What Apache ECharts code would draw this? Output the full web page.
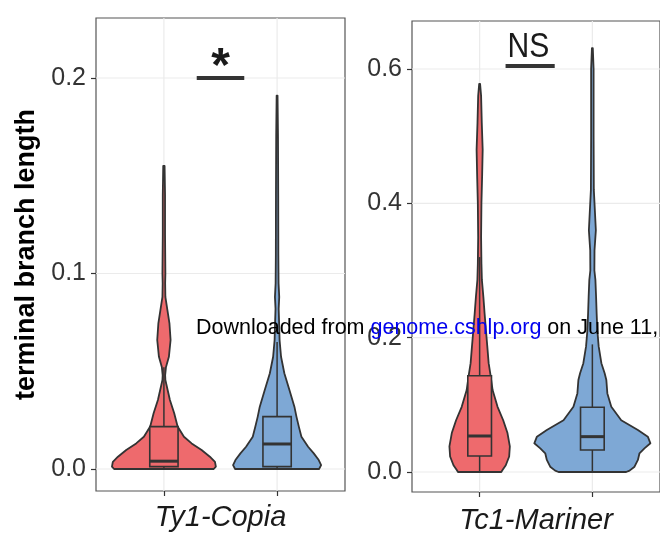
<!DOCTYPE html>
<html><head><meta charset="utf-8">
<script src="https://cdn.jsdelivr.net/npm/echarts@6/dist/echarts.min.js"></script>
<style>html,body{margin:0;padding:0;background:#fff}#c{width:660px;height:541px}</style>
</head><body><div id="c"></div>
<script>
// ---- data ----
const panelNames = ['Ty1-Copia', 'Tc1-Mariner'];
const groupPos = [1, 2];               // red group, blue group
const ty1TickLabels = [0, 0.1, 0.2];
const tc1TickLabels = [0, 0.2, 0.4, 0.6];

// violin outlines: value levels (top -> bottom) and half-widths (x units)
const ty1RedY = [0.155, 0.14, 0.12, 0.10, 0.095, 0.088, 0.0813, 0.0745, 0.066, 0.0574, 0.052, 0.048, 0.0455, 0.0404, 0.0353, 0.0285, 0.0217, 0.0165, 0.0131, 0.0097, 0.0063, 0.0037, 0.0012, 0];
const ty1RedW = [0.006, 0.010, 0.010, 0.013, 0.011, 0.013, 0.031, 0.049, 0.059, 0.044, 0.018, 0.011, 0.013, 0.033, 0.053, 0.091, 0.121, 0.177, 0.245, 0.333, 0.406, 0.451, 0.459, 0.44];
const ty1BlueY = [0.191, 0.17, 0.14, 0.11, 0.095, 0.088, 0.082, 0.0745, 0.066, 0.0574, 0.049, 0.0404, 0.0319, 0.0268, 0.0217, 0.0165, 0.0114, 0.008, 0.0046, 0.002, 0];
const ty1BlueW = [0.004, 0.008, 0.010, 0.011, 0.013, 0.019, 0.014, 0.018, 0.022, 0.035, 0.064, 0.109, 0.153, 0.171, 0.192, 0.215, 0.274, 0.324, 0.368, 0.389, 0.371];
const tc1RedY = [0.578, 0.56, 0.52, 0.48, 0.44, 0.40, 0.35, 0.31, 0.286, 0.261, 0.236, 0.211, 0.187, 0.162, 0.144, 0.122, 0.097, 0.077, 0.058, 0.038, 0.023, 0.010, 0.003, 0];
const tc1RedW = [0.004, 0.013, 0.019, 0.027, 0.022, 0.016, 0.013, 0.016, 0.020, 0.033, 0.044, 0.056, 0.068, 0.080, 0.097, 0.115, 0.159, 0.209, 0.247, 0.268, 0.262, 0.232, 0.203, 0.192];
const tc1BlueY = [0.631, 0.60, 0.50, 0.42, 0.39, 0.36, 0.33, 0.30, 0.286, 0.261, 0.236, 0.211, 0.187, 0.162, 0.147, 0.137, 0.117, 0.097, 0.077, 0.0625, 0.0526, 0.0427, 0.0352, 0.0278, 0.0179, 0.0079, 0.002, 0];
const tc1BlueW = [0.004, 0.011, 0.011, 0.013, 0.022, 0.031, 0.019, 0.018, 0.027, 0.033, 0.038, 0.044, 0.056, 0.080, 0.109, 0.124, 0.133, 0.168, 0.256, 0.404, 0.492, 0.515, 0.462, 0.418, 0.404, 0.374, 0.33, 0.30];

// box stats [lower whisker, q1, median, q3, upper whisker]
const ty1RedBox = [0, 0.0012, 0.004, 0.0217, 0.052];
const ty1BlueBox = [0, 0.0012, 0.0128, 0.0268, 0.065];
const tc1RedBox = [0, 0.0238, 0.0536, 0.1434, 0.32];
const tc1BlueBox = [0, 0.0328, 0.0526, 0.0963, 0.19];

// significance annotations: [x start, x end, y level], label, label anchor [x, y]
const sigLabels = ['*', 'NS'];
const sigBracketTy1 = [1.29, 1.71, 0.2];
const sigBracketTc1 = [1.23, 1.666, 0.6044];
const sigLabelPosTy1 = [1.5, 0.205];
const sigLabelPosTc1 = [1.433, 0.632];

// ---- styles ----
const RED = '#EE6A6D', BLUE = '#7EA8D5', INK = '#333333', GRIDC = '#EBEBEB';
const FONT = 'Liberation Sans, Arial, Helvetica, sans-serif';

function violinSeries(g, pos, ys, ws, box, fill, boxHalf) {
  return {
    type: 'custom', xAxisIndex: g, yAxisIndex: g, z: 3, silent: true, animation: false,
    data: [[pos, box[2]]],
    renderItem: function (params, api) {
      const pts = [];
      for (let i = 0; i < ys.length; i++) pts.push(api.coord([pos + ws[i], ys[i]]));
      for (let i = ys.length - 1; i >= 0; i--) pts.push(api.coord([pos - ws[i], ys[i]]));
      const tl = api.coord([pos - boxHalf, box[3]]);
      const br = api.coord([pos + boxHalf, box[1]]);
      const med = api.coord([pos, box[2]]);
      const wTop = api.coord([pos, box[4]]);
      const wBot = api.coord([pos, box[0]]);
      const cx = med[0];
      return { type: 'group', children: [
        { type: 'polygon', shape: { points: pts }, style: { fill: fill, stroke: INK, lineWidth: 1.8, lineJoin: 'round' } },
        { type: 'line', shape: { x1: cx, y1: tl[1], x2: cx, y2: wTop[1] }, style: { stroke: INK, lineWidth: 1.5 } },
        { type: 'line', shape: { x1: cx, y1: br[1], x2: cx, y2: wBot[1] }, style: { stroke: INK, lineWidth: 1.5 } },
        { type: 'rect', shape: { x: tl[0], y: tl[1], width: br[0] - tl[0], height: br[1] - tl[1] }, style: { fill: fill, stroke: INK, lineWidth: 1.6 } },
        { type: 'line', shape: { x1: tl[0], y1: med[1], x2: br[0], y2: med[1] }, style: { stroke: INK, lineWidth: 3 } }
      ] };
    }
  };
}

function gridLineSeries(g, yTicks) {
  return {
    type: 'custom', xAxisIndex: g, yAxisIndex: g, z: 1, silent: true, animation: false,
    data: [[groupPos[0], yTicks[0]]],
    renderItem: function (params, api) {
      const cs = params.coordSys;
      const kids = [];
      yTicks.forEach(v => {
        const y = api.coord([groupPos[0], v])[1];
        kids.push({ type: 'line', shape: { x1: cs.x, y1: y, x2: cs.x + cs.width, y2: y }, style: { stroke: GRIDC, lineWidth: 1.2 } });
      });
      groupPos.forEach(p => {
        const x = api.coord([p, yTicks[0]])[0];
        kids.push({ type: 'line', shape: { x1: x, y1: cs.y, x2: x, y2: cs.y + cs.height }, style: { stroke: GRIDC, lineWidth: 1.2 } });
      });
      return { type: 'group', children: kids };
    }
  };
}

function sigSeries(g, bracket, label, labelPos, textStyle, sx) {
  return {
    type: 'custom', xAxisIndex: g, yAxisIndex: g, z: 4, silent: true, animation: false,
    data: [[labelPos[0], labelPos[1]]],
    renderItem: function (params, api) {
      const a = api.coord([bracket[0], bracket[2]]);
      const b = api.coord([bracket[1], bracket[2]]);
      const t = api.coord(labelPos);
      return { type: 'group', children: [
        { type: 'line', shape: { x1: a[0], y1: a[1], x2: b[0], y2: b[1] }, style: { stroke: INK, lineWidth: 4 } },
        { type: 'text', x: t[0], y: t[1], scaleX: sx, style: Object.assign({ text: label, align: 'center', verticalAlign: 'middle', fill: '#1a1a1a' }, textStyle) }
      ] };
    }
  };
}

function xAxisFor(g, gap) {
  return {
    type: 'value', gridIndex: g, min: 0.4, max: 2.6,
    axisLine: { show: false, onZero: false },
    splitLine: { show: false },
    axisTick: { show: true, customValues: groupPos, length: 5, lineStyle: { color: INK, width: 1.2 } },
    axisLabel: { show: false },
    name: panelNames[g], nameLocation: 'middle', nameGap: gap,
    nameTextStyle: { fontSize: 29, fontStyle: 'italic', color: '#1a1a1a', fontFamily: FONT }
  };
}

function yAxisFor(g, ticks, min, max) {
  return {
    type: 'value', gridIndex: g, min: min, max: max,
    axisLine: { show: false, onZero: false },
    splitLine: { show: false },
    axisTick: { show: true, customValues: ticks, length: 5, lineStyle: { color: INK, width: 1.2 } },
    axisLabel: { customValues: ticks, formatter: v => Number(v).toFixed(1), fontSize: 25, color: '#333', margin: 10, fontFamily: FONT }
  };
}

const chart = echarts.init(document.getElementById('c'), null, { renderer: 'canvas' });
const yLeft = yAxisFor(0, ty1TickLabels, -0.01125, 0.2307);
yLeft.name = 'terminal branch length';
yLeft.nameLocation = 'middle';
yLeft.nameRotate = 90;
yLeft.nameGap = 56;
yLeft.nameTextStyle = { fontWeight: 'bold', fontSize: 27, color: '#000', fontFamily: FONT };

chart.setOption({
  animation: false,
  backgroundColor: '#fff',
  textStyle: { fontFamily: FONT },
  grid: [
    { left: 96, top: 18, width: 249, height: 473, show: true, borderColor: '#555', borderWidth: 1.2, containLabel: false },
    { left: 412, top: 21, width: 249, height: 471, show: true, borderColor: '#555', borderWidth: 1.2, containLabel: false }
  ],
  xAxis: [xAxisFor(0, 12), xAxisFor(1, 14)],
  yAxis: [yLeft, yAxisFor(1, tc1TickLabels, -0.0298, 0.6715)],
  series: [
    gridLineSeries(0, ty1TickLabels),
    gridLineSeries(1, tc1TickLabels),
    violinSeries(0, groupPos[0], ty1RedY, ty1RedW, ty1RedBox, RED, 0.125),
    violinSeries(0, groupPos[1], ty1BlueY, ty1BlueW, ty1BlueBox, BLUE, 0.125),
    violinSeries(1, groupPos[0], tc1RedY, tc1RedW, tc1RedBox, RED, 0.105),
    violinSeries(1, groupPos[1], tc1BlueY, tc1BlueW, tc1BlueBox, BLUE, 0.105),
    sigSeries(0, sigBracketTy1, sigLabels[0], sigLabelPosTy1, { fontSize: 48, fontWeight: 'bold', fontFamily: FONT }, 1),
    sigSeries(1, sigBracketTc1, sigLabels[1], sigLabelPosTc1, { fontSize: 35, fontFamily: FONT }, 0.86)
  ],
  graphic: [{
    type: 'text', x: 196, y: 328, z: 100, silent: true,
    style: {
      text: '{a|Downloaded from }{b|genome.cshlp.org}{a| on June 11,}',
      verticalAlign: 'middle', align: 'left',
      rich: {
        a: { fontSize: 21.5, fill: '#000', fontFamily: FONT },
        b: { fontSize: 21.5, fill: '#0000EE', fontFamily: FONT }
      }
    }
  }]
});
</script>
</body></html>
